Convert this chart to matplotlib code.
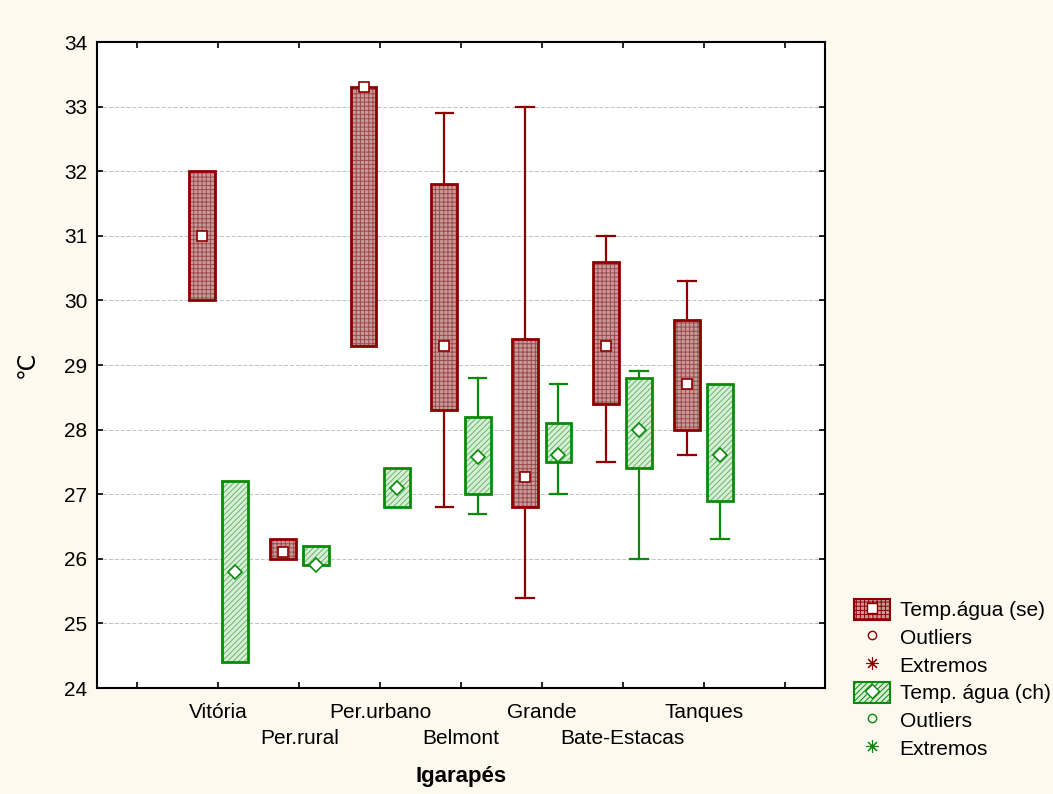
import numpy as np
import matplotlib.pyplot as plt
from matplotlib.patches import Rectangle, Patch
from matplotlib.lines import Line2D
from matplotlib.transforms import blended_transform_factory

plt.rcParams['font.family'] = ['Liberation Sans', 'DejaVu Sans']
plt.rcParams['hatch.linewidth'] = 0.7

sites = ['Vitória', 'Per.rural', 'Per.urbano', 'Belmont', 'Grande', 'Bate-Estacas', 'Tanques']

# Temp. agua (se)
se_med = [31.0, 26.1, 33.3, 29.3, 27.27, 29.3, 28.7]
se_q1 = [30.0, 26.0, 29.3, 28.3, 26.8, 28.4, 28.0]
se_q3 = [32.0, 26.3, 33.3, 31.8, 29.4, 30.6, 29.7]
se_min = [30.0, 26.0, 29.3, 26.8, 25.4, 27.5, 27.6]
se_max = [32.0, 26.3, 33.3, 32.9, 33.0, 31.0, 30.3]

# Temp. agua (ch)
ch_med = [25.8, 25.9, 27.1, 27.57, 27.6, 28.0, 27.6]
ch_q1 = [24.4, 25.9, 26.8, 27.0, 27.5, 27.4, 26.9]
ch_q3 = [27.2, 26.2, 27.4, 28.2, 28.1, 28.8, 28.7]
ch_min = [24.4, 25.9, 26.8, 26.7, 27.0, 26.0, 26.3]
ch_max = [27.2, 26.2, 27.4, 28.8, 28.7, 28.9, 28.7]

red = '#8b0000'
red_face = '#c99a9a'
red_hatch = '#9c4c4c'
green = '#0a8a0a'
green_face = '#d8eed8'
green_hatch = '#66b866'
bg = '#fdf9ee'

fig = plt.figure(figsize=(10.53, 7.94), dpi=100, facecolor=bg)
ax = fig.add_axes([0.0921, 0.1335, 0.6914, 0.8136])
ax.set_facecolor('white')

bw = 0.32
cw = 0.22
off = 0.205


def draw_box(x, q1, q3, lo, hi, med, ec, fc, hc, hatch, marker):
    # whiskers
    if hi > q3:
        ax.plot([x, x], [q3, hi], color=ec, lw=1.6, zorder=2)
        ax.plot([x - cw / 2, x + cw / 2], [hi, hi], color=ec, lw=1.6, zorder=2)
    if lo < q1:
        ax.plot([x, x], [lo, q1], color=ec, lw=1.6, zorder=2)
        ax.plot([x - cw / 2, x + cw / 2], [lo, lo], color=ec, lw=1.6, zorder=2)
    ax.add_patch(Rectangle((x - bw / 2, q1), bw, q3 - q1, facecolor=fc,
                           edgecolor=hc, hatch=hatch, lw=0, zorder=3))
    ax.add_patch(Rectangle((x - bw / 2, q1), bw, q3 - q1, facecolor='none',
                           edgecolor=ec, lw=2.0, zorder=4))
    ax.plot([x], [med], marker=marker, ms=7.5, mfc='white',
            mec=ec, mew=1.2, zorder=5)


for i in range(len(sites)):
    xc = 1.5 + i
    draw_box(xc - off, se_q1[i], se_q3[i], se_min[i], se_max[i], se_med[i],
             red, red_face, red_hatch, '++++', 's')
    draw_box(xc + off, ch_q1[i], ch_q3[i], ch_min[i], ch_max[i], ch_med[i],
             green, green_face, green_hatch, '//////', 'D')

ax.set_xlim(0, 9)
ax.set_ylim(24, 34)
ax.set_yticks(np.arange(24, 35, 1))
ax.set_xticks(np.arange(0.5, 9, 1))
ax.set_xticklabels([])
for y in range(25, 34):
    ax.axhline(y, color='#c0c0c0', lw=0.7, ls=(0, (4, 2)), zorder=1)

ax.tick_params(axis='both', direction='in', length=4, width=1.2,
               top=True, right=True, labelsize=15)
ax.tick_params(axis='y', pad=7)
for s in ax.spines.values():
    s.set_linewidth(1.5)

trans = blended_transform_factory(ax.transData, ax.transAxes)
for i, name in enumerate(sites):
    yy = -0.038 if i % 2 == 0 else -0.078
    ax.text(1.5 + i, yy, name, transform=trans, ha='center', va='center', fontsize=15)

ax.text(0.5, -0.137, 'Igarapés', transform=ax.transAxes, ha='center', va='center',
        fontsize=16, fontweight='bold')
ax.set_ylabel('℃', fontsize=17, labelpad=18, family=['DejaVu Sans'])

handles = [
    (Patch(facecolor=red_face, edgecolor=red, hatch='++++', lw=1.5),
     Line2D([], [], marker='s', ls='none', ms=7, mfc='white', mec=red)),
    Line2D([], [], marker='o', ls='none', ms=6, mfc='none', mec=red),
    Line2D([], [], marker=(8, 2, 0), ls='none', ms=9, color=red, mew=0.8),
    (Patch(facecolor=green_face, edgecolor=green, hatch='//////', lw=1.5),
     Line2D([], [], marker='D', ls='none', ms=7, mfc='white', mec=green)),
    Line2D([], [], marker='o', ls='none', ms=6, mfc='none', mec=green),
    Line2D([], [], marker=(8, 2, 0), ls='none', ms=9, color=green, mew=0.8),
]
labels = ['Temp.água (se)', 'Outliers', 'Extremos', 'Temp. água (ch)', 'Outliers', 'Extremos']
fig.legend(handles, labels, loc='upper left', bbox_to_anchor=(0.803, 0.256),
           frameon=False, fontsize=15, handlelength=1.75, handleheight=1.15,
           labelspacing=0.3, handletextpad=0.45, borderaxespad=0)

fig.savefig('out.png', dpi=100, facecolor=bg)
